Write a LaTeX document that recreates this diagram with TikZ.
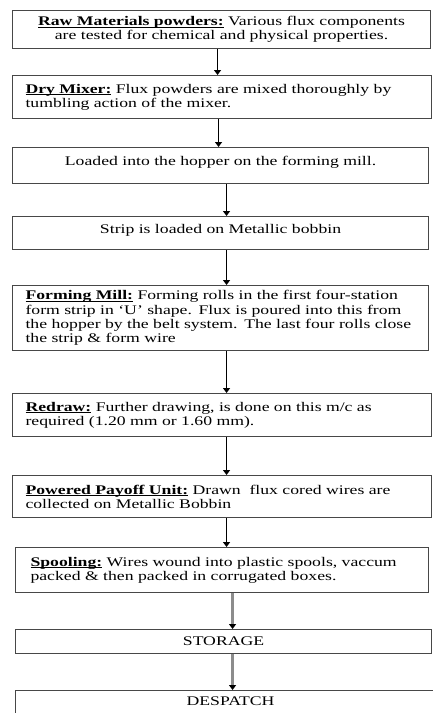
\documentclass[tikz,border=0pt]{standalone}
\usepackage{fontspec}
\setmainfont{Liberation Serif}[FakeStretch=1.34]
\usetikzlibrary{arrows.meta}

% bold, underlined stage heading with the rule at a fixed depth
\newsavebox\headbox
\newcommand\stagehead[1]{\sbox\headbox{\textbf{#1}}%
  \rlap{\rule[-2pt]{\wd\headbox}{0.7pt}}\usebox\headbox}

\begin{document}
\begin{tikzpicture}[x=1pt, y=-1pt,
  font=\fontsize{13.2}{14.2}\selectfont,
  stage/.style={draw=black!72, line width=1.1pt, rectangle, anchor=north west,
    inner xsep=13pt, inner ysep=0pt, align=left},
  centred/.style={align=center},
  flow/.style={draw=black, line width=1.3pt, -{Triangle[width=7pt,length=5pt]}},
  greyflow/.style={draw=black!45, line width=2.2pt, -{Triangle[width=7pt,length=5pt,color=black]}}
]
\useasboundingbox (0,0) rectangle (432,713);

% process stages: (left, top), width, height
\node[stage, centred, text width=392pt, minimum height=38pt] (raw) at (12,10)
  {\stagehead{Raw Materials powders:} Various flux components\\
   are tested for chemical and physical properties.};
\node[stage, text width=393pt, minimum height=43pt] (mixer) at (12,75)
  {\stagehead{Dry Mixer:} Flux powders are mixed thoroughly by\\
   tumbling action of the mixer.};
\node[stage, centred, text width=390pt, minimum height=36pt, text depth=9pt] (hopper) at (12,147)
  {Loaded into the hopper on the forming mill.};
\node[stage, centred, text width=390pt, minimum height=33pt, text depth=9pt] (strip) at (12,216)
  {Strip is loaded on Metallic bobbin};
\node[stage, text width=390pt, minimum height=65pt] (forming) at (12,285)
  {\stagehead{Forming Mill:} Forming rolls in the first four-station\\
   form strip in `U' shape. Flux is poured into this from\\
   the hopper by the belt system. The last four rolls close\\
   the strip \& form wire};
\node[stage, text width=393pt, minimum height=43pt] (redraw) at (12,393)
  {\stagehead{Redraw:} Further drawing, is done on this m/c as\\
   required (1.20 mm or 1.60 mm).};
\node[stage, text width=393pt, minimum height=42pt] (payoff) at (12,475)
  {\stagehead{Powered Payoff Unit:} Drawn\ \ flux cored wires are\\
   collected on Metallic Bobbin};
\node[stage, inner xsep=15pt, text width=383pt, minimum height=45pt] (spool) at (15,547)
  {\stagehead{Spooling:} Wires wound into plastic spools, vaccum\\
   packed \& then packed in corrugated boxes.};
\node[stage, centred, text width=390pt, minimum height=24pt] (storage) at (15,629)
  {STORAGE};
\node[stage, centred, text width=404pt, minimum height=36pt, text depth=14pt] (despatch) at (15,690)
  {DESPATCH};

% connectors
\draw[flow] ([xshift=-4pt]raw.south) -- ([xshift=-4pt]raw.south |- mixer.north);
\draw[flow] ([xshift=-3.5pt]mixer.south) -- ([xshift=-3.5pt]mixer.south |- hopper.north);
\draw[flow] ([xshift=6pt]hopper.south) -- ([xshift=6pt]hopper.south |- strip.north);
\draw[flow] ([xshift=6pt]strip.south) -- ([xshift=6pt]strip.south |- forming.north);
\draw[flow] ([xshift=6pt]forming.south) -- ([xshift=6pt]forming.south |- redraw.north);
\draw[flow] ([xshift=4.5pt]redraw.south) -- ([xshift=4.5pt]redraw.south |- payoff.north);
\draw[flow] ([xshift=4.5pt]payoff.south) -- ([xshift=4.5pt]payoff.south |- spool.north);
\draw[greyflow] ([xshift=10.5pt]spool.south) -- ([xshift=10.5pt]spool.south |- storage.north);
\draw[greyflow] ([xshift=9pt]storage.south) -- ([xshift=9pt]storage.south |- despatch.north);
\end{tikzpicture}
\end{document}
